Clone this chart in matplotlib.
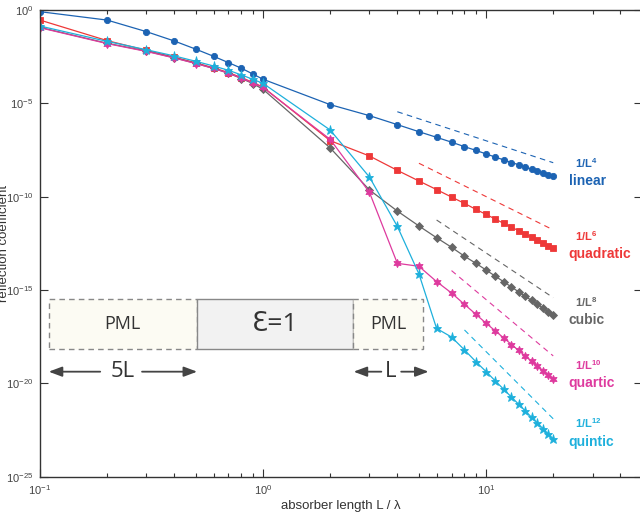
import numpy as np
import matplotlib
matplotlib.use('Agg')
import matplotlib.pyplot as plt
from matplotlib.ticker import LogLocator, FixedLocator, FuncFormatter, NullLocator
from matplotlib.patches import Rectangle

plt.rcParams['font.family'] = ['Liberation Sans', 'DejaVu Sans']
plt.rcParams['mathtext.fontset'] = 'custom'
plt.rcParams['mathtext.rm'] = 'Liberation Sans'
plt.rcParams['mathtext.it'] = 'Liberation Sans'
plt.rcParams['mathtext.default'] = 'regular'

# absorber length L / lambda
L = [0.1, 0.2, 0.3, 0.4, 0.5, 0.6, 0.7, 0.8, 0.9, 1.0,
     2, 3, 4, 5, 6, 7, 8, 9, 10, 11, 12, 13, 14, 15, 16, 17, 18, 19, 20]

# log10 of reflection coefficient
linear_exp = [-0.09, -0.54, -1.16, -1.66, -2.10, -2.48, -2.82, -3.12, -3.43, -3.71,
              -5.07, -5.66, -6.14, -6.52, -6.82, -7.08, -7.32, -7.52, -7.71,
              -7.88, -8.03, -8.17, -8.29, -8.41, -8.53, -8.63, -8.73, -8.83, -8.91]
quadratic_exp = [-0.54, -1.64, -2.16, -2.53, -2.83, -3.10, -3.35, -3.62, -3.88, -4.13,
                 -7.00, -7.82, -8.59, -9.16, -9.62, -10.02, -10.36, -10.68, -10.95,
                 -11.20, -11.43, -11.63, -11.83, -12.01, -12.17, -12.33, -12.48, -12.62, -12.77]
cubic_exp = [-0.93, -1.78, -2.20, -2.56, -2.86, -3.13, -3.39, -3.67, -3.94, -4.25,
             -7.39, -9.64, -10.77, -11.57, -12.20, -12.71, -13.19, -13.57, -13.93,
             -14.26, -14.56, -14.84, -15.10, -15.34, -15.56, -15.77, -15.97, -16.16, -16.35]
quartic_exp = [-0.95, -1.80, -2.22, -2.57, -2.87, -3.13, -3.38, -3.65, -3.90, -4.15,
               -6.93, -9.77, -13.57, -13.73, -14.55, -15.16, -15.77, -16.30, -16.78,
               -17.19, -17.57, -17.92, -18.24, -18.54, -18.82, -19.08, -19.33, -19.57, -19.79]
quintic_exp = [-0.86, -1.68, -2.13, -2.46, -2.75, -3.00, -3.23, -3.48, -3.71, -3.93,
               -6.43, -8.95, -11.59, -14.14, -17.06, -17.52, -18.21, -18.84, -19.37,
               -19.87, -20.32, -20.74, -21.12, -21.48, -21.82, -22.13, -22.43, -22.71, -22.98]

# dashed 1/L^n guide lines: (L start, L end), (log10 start, log10 end)
guide_L = {'linear': (4, 20), 'quadratic': (5, 20), 'cubic': (6, 20),
           'quartic': (7, 20), 'quintic': (8, 20)}
guide_exp = {'linear': (-5.45, -8.18), 'quadratic': (-8.21, -11.78), 'cubic': (-11.25, -15.41),
             'quartic': (-13.96, -18.53), 'quintic': (-17.14, -21.90)}

names = ['linear', 'quadratic', 'cubic', 'quartic', 'quintic']
powers = ['4', '6', '8', '10', '12']
series = [linear_exp, quadratic_exp, cubic_exp, quartic_exp, quintic_exp]
colors = ['#1c63b3', '#ee3838', '#666666', '#de3a9e', '#1eb0dc']
markers = ['o', 's', 'D', (6, 1, 0), '*']
msizes = [4.5, 4.0, 3.8, 6.0, 6.5]
label_y = [0.634, 0.477, 0.336, 0.200, 0.075]

fig = plt.figure(figsize=(6.4, 5.13), dpi=100)
ax = fig.add_axes([0.0625, 0.0708, 0.9406, 0.9097])

for name, ys, c, m, ms in zip(names, series, colors, markers, msizes):
    ax.plot(L, 10.0 ** np.array(ys), color=c, marker=m, markersize=ms,
            markeredgewidth=0.6, lw=0.9)
    gx = guide_L[name]
    gy = 10.0 ** np.array(guide_exp[name])
    ax.plot(gx, gy, color=c, lw=0.8, ls=(0, (5, 4)))

for name, p, c, y in zip(names, powers, colors, label_y):
    ax.text(0.889, y + 0.039, '1/L$^{' + p + '}$', transform=ax.transAxes, color=c,
            fontsize=8, fontweight='bold', ha='left', va='center')
    ax.text(0.878, y, name, transform=ax.transAxes, color=c,
            fontsize=10, fontweight='bold', ha='left', va='center')

ax.set_xscale('log')
ax.set_yscale('log')
ax.set_xlim(0.1, 50)
ax.set_ylim(1e-25, 1)

ax.xaxis.set_major_locator(FixedLocator([0.1, 1, 10]))
ax.xaxis.set_minor_locator(LogLocator(base=10, subs=np.arange(2, 10), numticks=20))
ax.yaxis.set_major_locator(FixedLocator([10.0 ** e for e in range(-25, 1, 5)]))
ax.yaxis.set_minor_locator(NullLocator())
fmt = FuncFormatter(lambda v, pos: '$10^{%d}$' % int(round(np.log10(v))))
ax.xaxis.set_major_formatter(fmt)
ax.yaxis.set_major_formatter(fmt)
ax.xaxis.set_minor_formatter(plt.NullFormatter())

ax.tick_params(which='both', direction='in', top=True, right=True,
               colors='#333333', labelcolor='#444444', labelsize=8, width=0.8)
ax.tick_params(which='major', length=6, pad=5)
ax.tick_params(which='minor', length=3)
for s in ax.spines.values():
    s.set_color('#333333')
    s.set_linewidth(1.0)

ax.set_xlabel('absorber length L / λ', fontsize=9.5, color='#333333', labelpad=2)
fig.text(0.006, 0.526, 'reflection coefficient', rotation=90, fontsize=9.5,
         color='#333333', ha='center', va='center')

# simulation cell sketch
box_font = ['Open Sans', 'DejaVu Sans']
ax.add_patch(Rectangle((0.0145, 0.273), 0.2465, 0.108, transform=ax.transAxes,
                       facecolor='#fcfbf3', edgecolor='#888888', ls=(0, (4, 3)), lw=1.0))
ax.add_patch(Rectangle((0.261, 0.273), 0.2585, 0.108, transform=ax.transAxes,
                       facecolor='#f2f2f2', edgecolor='#888888', lw=1.0))
ax.add_patch(Rectangle((0.5195, 0.273), 0.1167, 0.108, transform=ax.transAxes,
                       facecolor='#fcfbf3', edgecolor='#888888', ls=(0, (4, 3)), lw=1.0))
ax.text(0.137, 0.327, 'PML', transform=ax.transAxes, fontsize=13, color='#333333',
        ha='center', va='center', family=box_font)
ax.text(0.39, 0.327, 'Ɛ=1', transform=ax.transAxes, fontsize=19, color='#333333',
        ha='center', va='center', family=box_font)
ax.text(0.578, 0.327, 'PML', transform=ax.transAxes, fontsize=13, color='#333333',
        ha='center', va='center', family=box_font)

arrow = dict(arrowstyle='-|>,head_length=0.8,head_width=0.3', color='#444444', lw=1.3,
             shrinkA=0, shrinkB=0)
ax.text(0.137, 0.225, '5L', transform=ax.transAxes, fontsize=16, color='#333333',
        ha='center', va='center', family=box_font)
ax.annotate('', xy=(0.0145, 0.225), xytext=(0.10, 0.225), xycoords='axes fraction',
            textcoords='axes fraction', arrowprops=arrow)
ax.annotate('', xy=(0.261, 0.225), xytext=(0.1695, 0.225), xycoords='axes fraction',
            textcoords='axes fraction', arrowprops=arrow)
ax.text(0.583, 0.225, 'L', transform=ax.transAxes, fontsize=16, color='#333333',
        ha='center', va='center', family=box_font)
ax.annotate('', xy=(0.521, 0.225), xytext=(0.567, 0.225), xycoords='axes fraction',
            textcoords='axes fraction', arrowprops=arrow)
ax.annotate('', xy=(0.6455, 0.225), xytext=(0.600, 0.225), xycoords='axes fraction',
            textcoords='axes fraction', arrowprops=arrow)

fig.savefig('out.png', dpi=100)
